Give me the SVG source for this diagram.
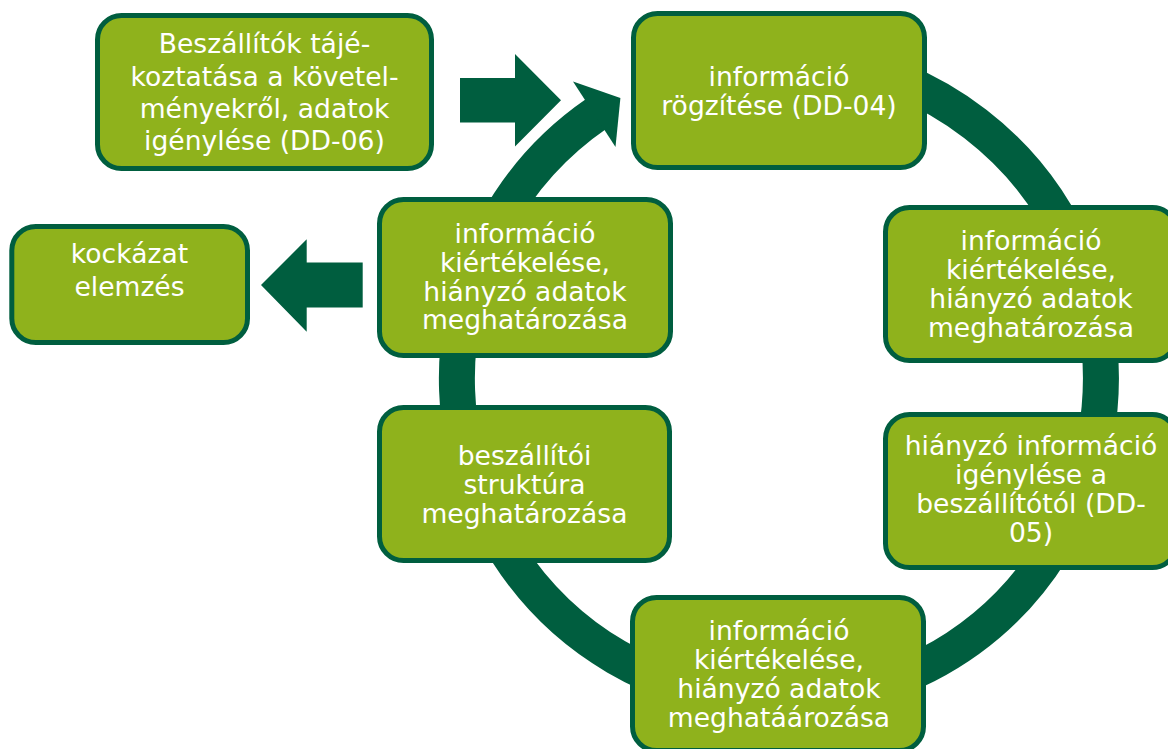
<svg xmlns="http://www.w3.org/2000/svg" width="1168" height="749" viewBox="0 0 1168 749">
<style>
.box{fill:#8FB21C;stroke:#005E3F;stroke-width:5}
.dk{fill:#005E3F}
.ring{fill:none;stroke:#005E3F;stroke-width:36}
.lbl{font-family:"DejaVu Sans",Verdana,sans-serif;font-size:26.6px;fill:#FFFFFF;text-anchor:middle}
</style>
<rect width="1168" height="749" fill="#FFFFFF"/>
<g id="connectors">
<path class="ring" d="M 668.9 76.4 A 322 322 0 1 1 596.6 113.6"/>
<polygon class="dk" points="573,81.5 620.4,98 615.5,147"/>
<polygon class="dk" points="460,78 515,78 515,54 561,100.3 515,146.6 515,122.6 460,122.6"/>
<polygon class="dk" points="362.7,262.5 306.7,262.5 306.7,239.3 261,285 306.7,331.7 306.7,307.5 362.7,307.5"/>
</g>
<g id="n1">
<rect class="box" x="97.5" y="15.5" width="334" height="153" rx="24"/>
<text class="lbl" x="264.5"><tspan x="264.5" y="53.3">Beszállítók tájé-</tspan><tspan x="264.5" y="86">koztatása a követel-</tspan><tspan x="264.5" y="118">ményekről, adatok</tspan><tspan x="264.5" y="150">igénylése (DD-06)</tspan></text>
</g>
<g id="n2">
<rect class="box" x="11.8" y="226.5" width="235.7" height="116" rx="24"/>
<text class="lbl" x="129.5"><tspan x="129.5" y="263">kockázat</tspan><tspan x="129.5" y="296">elemzés</tspan></text>
</g>
<g id="n3">
<rect class="box" x="633.5" y="13.5" width="291" height="154" rx="24"/>
<text class="lbl" x="779"><tspan x="779" y="86">információ</tspan><tspan x="779" y="115">rögzítése (DD-04)</tspan></text>
</g>
<g id="n4">
<rect class="box" x="885.5" y="207.5" width="291" height="153" rx="24"/>
<text class="lbl" x="1031"><tspan x="1031" y="250">információ</tspan><tspan x="1031" y="279">kiértékelése,</tspan><tspan x="1031" y="308">hiányzó adatok</tspan><tspan x="1031" y="337">meghatározása</tspan></text>
</g>
<g id="n5">
<rect class="box" x="885.5" y="414.5" width="291" height="153" rx="24"/>
<text class="lbl" x="1031"><tspan x="1031" y="455">hiányzó információ</tspan><tspan x="1031" y="484">igénylése a</tspan><tspan x="1031" y="513">beszállítótól (DD-</tspan><tspan x="1031" y="542">05)</tspan></text>
</g>
<g id="n6">
<rect class="box" x="632.5" y="597.5" width="291" height="153" rx="24"/>
<text class="lbl" x="779"><tspan x="779" y="640">információ</tspan><tspan x="779" y="669">kiértékelése,</tspan><tspan x="779" y="698">hiányzó adatok</tspan><tspan x="779" y="727">meghatáározása</tspan></text>
</g>
<g id="n7">
<rect class="box" x="379.5" y="407.5" width="290" height="153" rx="24"/>
<text class="lbl" x="524.5"><tspan x="524.5" y="465">beszállítói</tspan><tspan x="524.5" y="494">struktúra</tspan><tspan x="524.5" y="523">meghatározása</tspan></text>
</g>
<g id="n8">
<rect class="box" x="379.5" y="199.5" width="291" height="156" rx="24"/>
<text class="lbl" x="525"><tspan x="525" y="243">információ</tspan><tspan x="525" y="272">kiértékelése,</tspan><tspan x="525" y="301">hiányzó adatok</tspan><tspan x="525" y="329">meghatározása</tspan></text>
</g>
</svg>
